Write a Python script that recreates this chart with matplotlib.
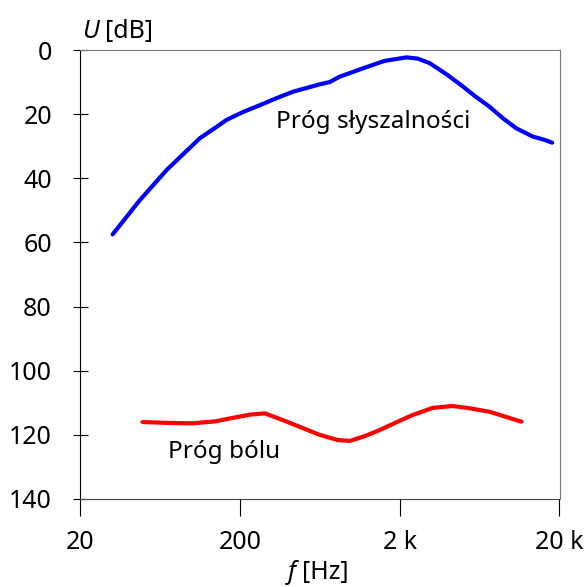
import matplotlib
matplotlib.use("Agg")
import matplotlib.pyplot as plt

plt.rcParams['font.family'] = ['Noto Sans', 'DejaVu Sans']

# hearing threshold (blue) and pain threshold (red)
prog_sl_f = [32.0, 47.4, 69.7, 112.5, 140, 165, 210, 267, 340, 431, 632, 730, 843, 1000, 1179, 1610, 2203, 2600, 3081, 3990, 4977, 5890, 7305, 8810, 10720, 13620, 16100, 17990]
prog_sl_db = [57.5, 46.8, 37.4, 27.5, 24.3, 21.8, 19.3, 17.2, 15.0, 13.0, 10.7, 10.0, 8.3, 7.0, 5.7, 3.4, 2.3, 2.7, 4.1, 7.8, 11.4, 14.3, 17.7, 21.2, 24.4, 27.0, 28.0, 28.9]

prog_bol_f = [49.3, 73, 101.7, 140, 180.8, 231, 287, 372, 474, 632, 819, 974, 1208, 1499, 1866, 2411, 3220, 4288, 5480, 7305, 11575]
prog_bol_db = [116.0, 116.3, 116.4, 115.8, 114.7, 113.7, 113.3, 115.4, 117.5, 120.0, 121.6, 121.9, 120.4, 118.5, 116.3, 113.8, 111.6, 111.0, 111.7, 112.8, 115.9]

x_ticks = [20, 200, 2000, 20000]
x_labels = ["20", "200", "2 k", "20 k"]
y_ticks = [0, 20, 40, 60, 80, 100, 120, 140]

W, H = 588, 587
fig = plt.figure(figsize=(W / 100, H / 100), dpi=100)
ax = fig.add_axes([80 / W, 1 - 499 / H, 479.5 / W, 449 / H])

ax.plot(prog_sl_f, prog_sl_db, color="#0000ff", lw=3.0, solid_capstyle="round", solid_joinstyle="round")
ax.plot(prog_bol_f, prog_bol_db, color="#ff0000", lw=3.0, solid_capstyle="round", solid_joinstyle="round")

ax.set_xscale("log")
ax.set_xlim(20, 20000)
ax.set_ylim(140, 0)
ax.set_xticks(x_ticks)
ax.set_xticklabels(x_labels)
ax.minorticks_off()
ax.set_yticks(y_ticks)

ax.tick_params(axis="y", direction="inout", length=10.8, width=0.8, labelsize=18, pad=14.8)
ax.tick_params(axis="x", direction="out", length=12, width=0.8, labelsize=18, pad=10)

ax.spines["left"].set_color("black")
ax.spines["bottom"].set_color("#444444")
for s in ["top", "right"]:
    ax.spines[s].set_color("#777777")

# curve labels
ax.text(335, 24.3, "Próg słyszalności", fontsize=17.5, va="baseline", ha="left")
ax.text(71.3, 127.2, "Próg bólu", fontsize=17.5, va="baseline", ha="left")

# axis labels
fig.text(82 / W, 1 - 38 / H, "U", fontsize=18, style="italic", va="baseline", ha="left")
fig.text(105 / W, 1 - 38 / H, "[dB]", fontsize=18, va="baseline", ha="left")
fig.text(288 / W, 1 - 579 / H, "f", fontsize=18, style="italic", va="baseline", ha="left")
fig.text(302 / W, 1 - 579 / H, "[Hz]", fontsize=18, va="baseline", ha="left")

fig.savefig("out.png", dpi=100)
